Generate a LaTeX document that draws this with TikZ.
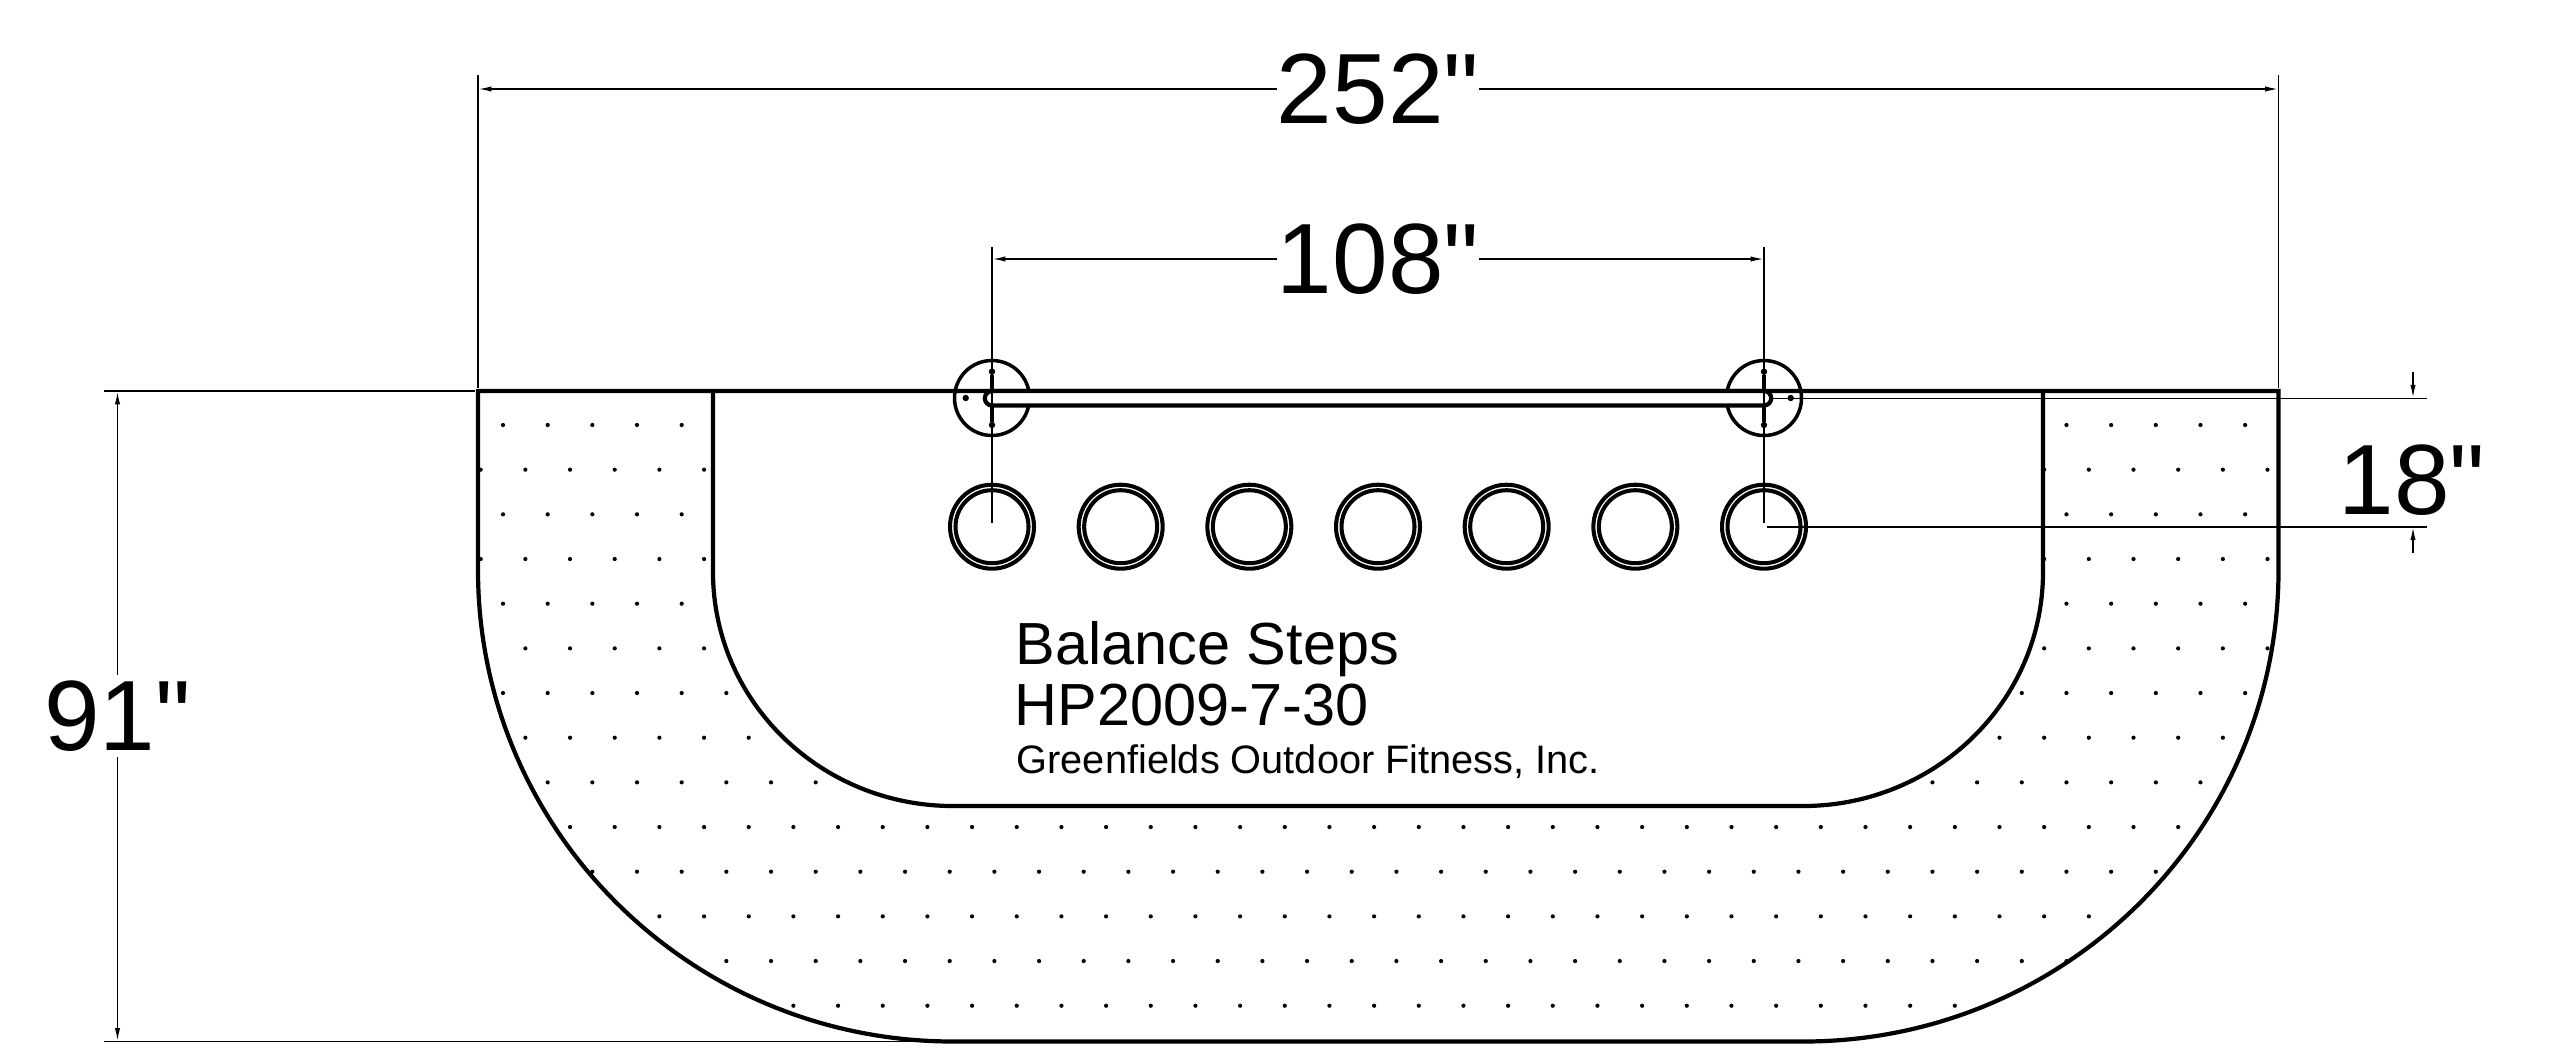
\documentclass[tikz,border=0pt]{standalone}
\usepackage{fontspec}
\newfontfamily\drawfont{Liberation Sans}
\usetikzlibrary{arrows.meta}

\tikzset{
  outline/.style={draw=black, line width=1.2pt},
  thinline/.style={draw=black, line width=0.45pt},
  dimline/.style={thinline, -{Latex[length=3.8pt,width=1.5pt]}},
  dimtext/.style={inner sep=0pt, outer sep=0pt, font=\drawfont\fontsize{28.4pt}{30pt}\selectfont},
  plaintext/.style={inner sep=0pt, anchor=base west},
  holering/.style={draw=black, line width=1.15pt},
}

\begin{document}
\begin{tikzpicture}[x=0.01cm, y=-0.01cm]
  \useasboundingbox (0,0) rectangle (2560,1057);
  %
  % dots between the two outlines
  \begin{scope}
    \clip (478,391) -- (478,570) arc (180:90:475 and 471.5) -- (1803.5,1041.5) arc (90:0:475 and 471.5) -- (2278.5,391) -- cycle;
    \foreach \j in {0,2,...,12} {
      \foreach \i in {0,...,39} {
        \fill (503+44.67*\i,425+44.67*\j) circle (2.1);
      }
    }
    \foreach \j in {1,3,...,13} {
      \foreach \i in {0,...,40} {
        \fill (480.7+44.67*\i,425+44.67*\j) circle (2.1);
      }
    }
  \end{scope}
  %
  % outlines
  \draw[outline, fill=white] (713,391) -- (713,572) arc (180:90:240 and 234) -- (1803,806) arc (90:0:240 and 234) -- (2043,391);
  \draw[outline] (478,391) -- (478,570) arc (180:90:475 and 471.5) -- (1803.5,1041.5) arc (90:0:475 and 471.5) -- (2278.5,391) -- cycle;
  %
  % holes
  \foreach \x in {0,...,6} {
    \draw[holering] (992+128.67*\x,526.7) circle (42);
    \draw[holering] (992+128.67*\x,526.7) circle (36.5);
  }
  %
  % posts and bar
  \foreach \x in {992,1764} {
    \draw[outline, line width=1pt] (\x,398) circle (37.5);
    \fill (\x,371.7) circle (3.2);
    \fill (\x,425) circle (3.2);
    \draw[outline] (\x,375) -- (\x,391);
    \draw[outline] (\x,405.5) -- (\x,422);
  }
  \fill (965.7,398) circle (3.2);
  \fill (1790.7,398) circle (3.2);
  \draw[outline, fill=white] (992,391) -- (1764,391) arc (-90:90:7.2) -- (992,405.5) arc (90:270:7.2) -- cycle;
  %
  % dimensions
  \coordinate (a252) at (478,89);
  \coordinate (b252) at (2278.5,89);
  \node[dimtext] (d252) at (1378,89) {252"};
  \draw[dimline] (d252) -- (a252);
  \draw[dimline] (d252) -- (b252);
  \draw[thinline] (478,75) -- (478,388);
  \draw[thinline] (2278.5,75) -- (2278.5,388);
  %
  \coordinate (a108) at (992,259);
  \coordinate (b108) at (1764,259);
  \node[dimtext] (d108) at (1378,259) {108"};
  \draw[dimline] (d108) -- (a108);
  \draw[dimline] (d108) -- (b108);
  \draw[thinline] (992,247) -- (992,523);
  \draw[thinline] (1764,247) -- (1764,523);
  %
  \coordinate (a91) at (117.5,391);
  \coordinate (b91) at (117.5,1041.5);
  \node[dimtext, inner ysep=1.7pt] (d91) at (117.5,716) {91"};
  \draw[dimline] (d91) -- (a91);
  \draw[dimline] (d91) -- (b91);
  \draw[thinline] (104,391) -- (475,391);
  \draw[thinline] (104,1041.5) -- (953,1041.5);
  %
  \coordinate (c18) at (2413,372);
  \coordinate (e18) at (2413,398.3);
  \coordinate (f18) at (2413,553);
  \coordinate (g18) at (2413,526.7);
  \node[dimtext] (d18) at (2412,480) {18"};
  \draw[dimline] (c18) -- (e18);
  \draw[dimline] (f18) -- (g18);
  \draw[thinline] (1772,398.3) -- (2427,398.3);
  \draw[thinline] (1767,526.7) -- (2427,526.7);
  %
  % labels
  \node[plaintext, font=\drawfont\fontsize{16.9pt}{18pt}\selectfont] (title) at (1015,664) {Balance Steps};
  \node[plaintext, font=\drawfont\fontsize{16.9pt}{18pt}\selectfont] (model) at (1014,725) {HP2009-7-30};
  \node[plaintext, font=\drawfont\fontsize{11.3pt}{13pt}\selectfont] (maker) at (1016,773) {Greenfields Outdoor Fitness, Inc.};
\end{tikzpicture}
\end{document}
